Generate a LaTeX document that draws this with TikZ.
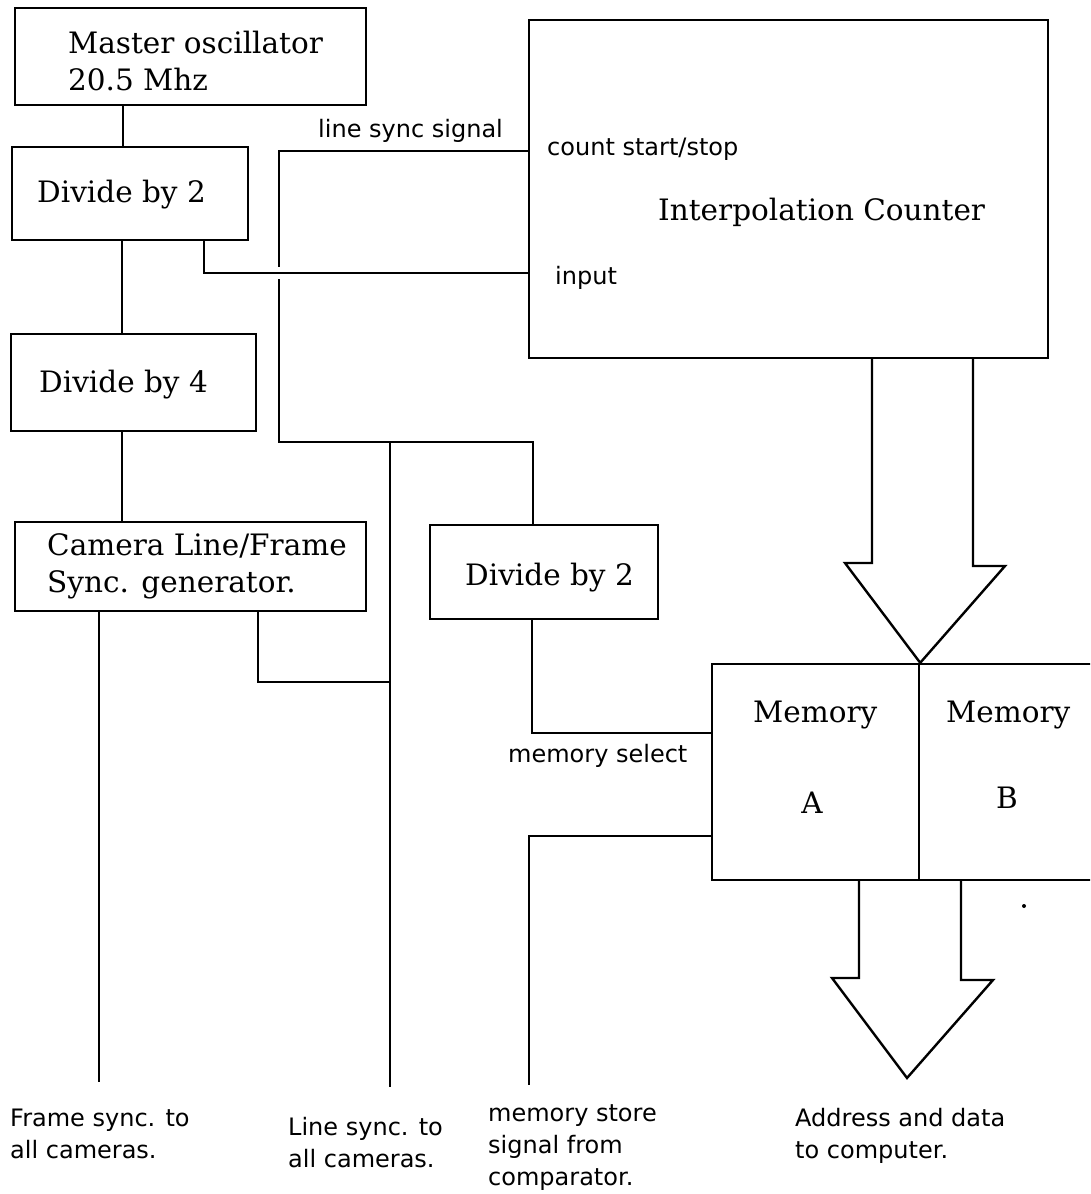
\documentclass[tikz,border=0pt]{standalone}
\usepackage{fontspec}
\setmainfont{DejaVu Serif}
\newfontfamily\labelfont{DejaVu Sans}
\begin{document}
\begin{tikzpicture}[x=1pt,y=-1pt,
  box/.style={draw, line width=2.4pt, inner sep=0pt, rectangle},
  wire/.style={line width=2.4pt, line join=miter},
  boxtext/.style={font=\fontsize{29.5}{37}\selectfont, inner sep=0pt, anchor=base west, align=left},
  lbl/.style={font=\labelfont\fontsize{24}{32}\selectfont, inner sep=0pt, anchor=base west, align=left}]
\useasboundingbox (0,0) rectangle (1090,1194);
\clip (0,0) rectangle (1090,1194);
% boxes
\node[box, minimum width=351pt, minimum height=97pt] (osc) at (190.5,56.5) {};
\node[box, minimum width=236pt, minimum height=93pt] (div2a) at (130,193.5) {};
\node[box, minimum width=245pt, minimum height=97pt] (div4) at (133.5,382.5) {};
\node[box, minimum width=351pt, minimum height=89pt] (cam) at (190.5,566.5) {};
\node[box, minimum width=228pt, minimum height=94pt] (div2b) at (544,572) {};
\node[box, minimum width=519pt, minimum height=338pt] (ic) at (788.5,189) {};
\node[box, minimum width=207pt, minimum height=216pt] (memA) at (815.5,772) {};
\node[box, minimum width=196pt, minimum height=216pt] (memB) at (1017,772) {};
% box texts (base anchor = baseline of the last line)
\node[boxtext] (tosc) at (68,90) {Master oscillator\\20.5 Mhz};
\node[boxtext] (tdiv2a) at (37,202) {Divide by 2};
\node[boxtext] (tdiv4) at (39,392) {Divide by 4};
\node[boxtext] (tcam) at (47,592) {Camera Line/Frame\\Sync. generator.};
\node[boxtext] (tdiv2b) at (465,585) {Divide by 2};
\node[boxtext] (tic) at (658,220) {Interpolation Counter};
\node[boxtext] (tmemA) at (753,722) {Memory};
\node[boxtext, anchor=base] (tA) at (812,813) {A};
\node[boxtext] (tmemB) at (946,722) {Memory};
\node[boxtext, anchor=base] (tB) at (1007,808) {B};
% small labels
\node[lbl] (lls) at (318,137) {line sync signal};
\node[lbl] (lcs) at (547,155) {count start/stop};
\node[lbl] (lin) at (555,284) {input};
\node[lbl] (lms) at (508,762) {memory select};
\node[lbl] (lfs) at (10,1158) {Frame sync. to\\all cameras.};
\node[lbl] (llsc) at (288,1167) {Line sync. to\\all cameras.};
\node[lbl] (lmst) at (488,1185) {memory store\\signal from\\comparator.};
\node[lbl] (lad) at (795,1158) {Address and data\\to computer.};
% free ends
\coordinate (fsend) at (99,1082);
\coordinate (lsend) at (390,1087);
\coordinate (msend) at (529,1085);
\coordinate (lsA) at (279,151);
\coordinate (lsB) at (279,267);
\coordinate (lsC) at (279,279);
\coordinate (lsD) at (279,442);
\coordinate (lsE) at (533,442);
\coordinate (lsJ) at (390,442);
% wires
\draw[wire] (123,0 |- osc.south) -- (123,0 |- div2a.north);
\draw[wire] (122,0 |- div2a.south) -- (122,0 |- div4.north);
\draw[wire] (122,0 |- div4.south) -- (122,0 |- cam.north);
\draw[wire] (204,0 |- div2a.south) |- (ic.west |- 0,273);
\draw[wire] (ic.west |- lsA) -- (lsA) -- (lsB);
\draw[wire] (lsC) -- (lsD) -- (lsE) -- (lsE |- div2b.north);
\draw[wire] (lsJ) -- (lsend);
\draw[wire] (fsend |- cam.south) -- (fsend);
\draw[wire] (258,0 |- cam.south) |- (lsend |- 0,682);
\draw[wire] (532,0 |- div2b.south) |- (memA.west |- 0,733);
\draw[wire] (memA.west |- 0,836) -| (msend);
% bus arrows
\draw[wire] (872,0 |- ic.south) -- (872,563) -- (845,563) -- (memA.north east) -- (1005,566) -- (973,566) -- (973,0 |- ic.south);
\draw[wire] (859,0 |- memA.south) -- (859,978) -- (832,978) -- (907,1078) -- (993,980) -- (961,980) -- (961,0 |- memA.south);
\fill (1024,906) circle (2pt);
\end{tikzpicture}
\end{document}
